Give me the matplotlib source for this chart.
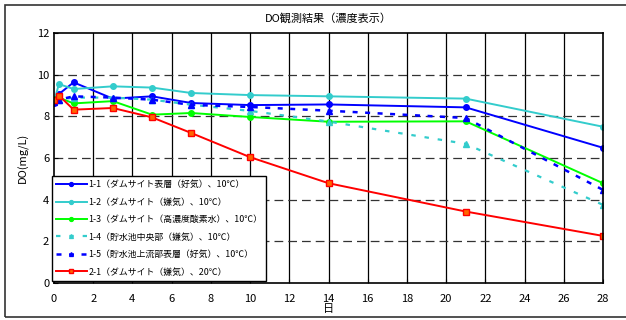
import numpy as np
import matplotlib
matplotlib.use("Agg")
import matplotlib.pyplot as plt
from matplotlib.patches import Rectangle

plt.rcParams['font.family'] = ['Noto Sans CJK JP', 'DejaVu Sans']

# 経過日数
days = [0, 0.25, 1, 3, 5, 7, 10, 14, 21, 28]

do_1_1 = [8.64, 9.07, 9.63, 8.85, 8.96, 8.64, 8.54, 8.57, 8.43, 6.49]
do_1_2 = [8.70, 9.55, 9.31, 9.44, 9.38, 9.12, 9.02, 8.96, 8.85, 7.50]
do_1_3 = [8.83, 8.90, 8.62, 8.73, 8.08, 8.16, 7.97, 7.74, 7.76, 4.79]
do_1_4 = [8.80, 8.80, 8.90, 8.90, 8.80, 8.56, 8.26, 7.75, 6.68, 3.75]
do_1_5 = [8.70, 8.80, 8.96, 8.90, 8.80, 8.55, 8.45, 8.27, 7.92, 4.47]
do_2_1 = [8.80, 9.00, 8.32, 8.40, 7.95, 7.20, 6.04, 4.79, 3.43, 2.26]

labels = [
    "1-1（ダムサイト表層（好気）、10℃）",
    "1-2（ダムサイト（嫌気）、10℃）",
    "1-3（ダムサイト（高濃度酸素水）、10℃）",
    "1-4（貯水池中央部（嫌気）、10℃）",
    "1-5（貯水池上流部表層（好気）、10℃）",
    "2-1（ダムサイト（嫌気）、20℃）",
]

fig = plt.figure(figsize=(6.26, 3.2), dpi=100)
ax = fig.add_axes([54/626, 37/320, 549/626, 250/320])

# 外枠
fig.patches.append(Rectangle((5/626, 3/320), 1.0, 312/320, transform=fig.transFigure,
                             fill=False, edgecolor='#333333', linewidth=1.2))

ax.plot(days, do_1_1, color='#0000FF', lw=1.4, marker='o', ms=4, label=labels[0])
ax.plot(days, do_1_2, color='#33CCCC', lw=1.4, marker='o', ms=4, label=labels[1])
ax.plot(days, do_1_3, color='#00FF00', lw=1.4, marker='o', ms=4, label=labels[2])
ax.plot(days, do_1_4, color='#33CCCC', lw=1.6, ls=(0, (2, 4)), marker='^', ms=4, label=labels[3])
ax.plot(days, do_1_5, color='#0000FF', lw=1.8, ls=(0, (2, 3)), marker='^', ms=4, label=labels[4])
ax.plot(days, do_2_1, color='#FF0000', lw=1.4, marker='s', ms=4,
        markerfacecolor='#FF6600', markeredgecolor='#FF0000', label=labels[5])

ax.set_xlim(0, 28)
ax.set_ylim(0, 12)
ax.set_xticks(np.arange(0, 29, 2))
ax.set_yticks(np.arange(0, 13, 2))
ax.tick_params(labelsize=8, length=3, direction='in')
ax.tick_params(axis='x', pad=8)

for x in np.arange(2, 28, 2):
    ax.axvline(x, color='black', lw=0.9, zorder=0)
for y in np.arange(2, 12, 2):
    ax.axhline(y, color='#333333', lw=0.9, ls=(0, (7, 4)), zorder=0)

for s in ax.spines.values():
    s.set_linewidth(1.2)

ax.set_title("DO観測結果（濃度表示）", fontsize=8, pad=8)
ax.set_ylabel("DO(mg/L)", fontsize=8, labelpad=6)
ax.set_xlabel("日", fontsize=8, labelpad=0)

leg = ax.legend(loc='lower left', bbox_to_anchor=(-0.003, 0.01), fontsize=6.4,
                fancybox=False, edgecolor='black', framealpha=1, borderaxespad=0,
                handlelength=3.4, markerscale=0.7, labelspacing=0.95, handletextpad=0.2,
                borderpad=0.45)
leg.get_frame().set_linewidth(1.0)

fig.savefig("out.png", dpi=100)
